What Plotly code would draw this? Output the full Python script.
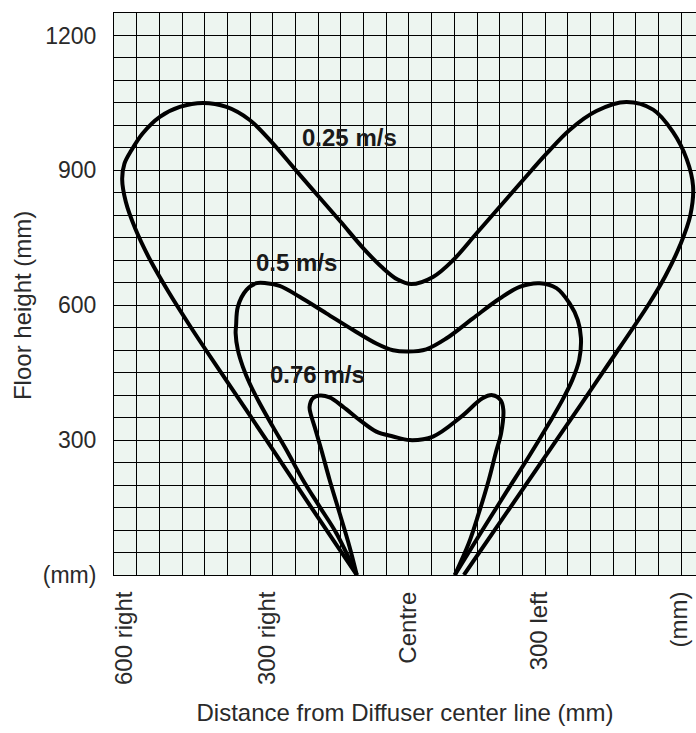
import plotly.graph_objects as go

# ---- data (mm) ----
x_025 = [-115, -215, -314, -414, -480, -530, -570, -603, -624, -632, -627, -612, -587, -549, -505,
         -454, -402, -351, -300, -250, -200, -150, -100, -60, -25, 5,
         53, 97, 149, 200, 251, 303, 354, 413, 479, 538, 582, 612, 626, 620, 598, 565, 530,
         430, 325, 223, 121]
y_025 = [0, 150, 300, 450, 550, 630, 700, 770, 830, 880, 915, 944, 982, 1019, 1041,
         1050, 1041, 1012, 960, 901, 843, 785, 726, 685, 657, 647,
         663, 700, 760, 819, 878, 937, 990, 1032, 1052, 1035, 985, 925, 865, 800, 735, 665, 605,
         455, 300, 150, 0]

x_05 = [-115, -160, -197, -234, -270, -300, -329, -351, -366, -377, -382, -381, -377, -358, -336,
        -314, -285, -241, -182, -123, -72, -35, -2, 38, 82, 141, 200, 244, 288, 325, 354, 372, 379,
        375, 360, 338, 309, 264, 213, 162, 101]
y_05 = [0, 93, 152, 212, 278, 330, 382, 426, 463, 500, 538, 554, 597, 634, 649,
        649, 643, 619, 582, 545, 515, 500, 497, 502, 526, 571, 615, 641, 649, 638, 604, 567, 527,
        478, 434, 389, 338, 263, 182, 100, 0]

x_076 = [-115, -131, -153, -175, -193, -208, -217, -219, -212, -197, -175, -145, -109, -72, -35, 2,
         53, 114, 162, 184, 202, 208, 203, 191, 176, 154, 132, 101]
y_076 = [0, 63, 138, 212, 278, 330, 360, 374, 393, 399, 395, 374, 345, 319, 308, 300,
         308, 351, 393, 400, 389, 367, 315, 271, 212, 138, 71, 0]

curve_labels = ["0.25 m/s", "0.5 m/s", "0.76 m/s"]
label_x = [-131, -247, -201]
label_y = [974, 694, 445]

x_tickvals = [-628, -312, -2, 288, 595]
x_ticktext = ["600 right", "300 right", "Centre", "300 left", "(mm)"]
y_tickvals = [0, 300, 600, 900, 1200]
y_ticktext = ["(mm)", "300", "600", "900", "1200"]

fig = go.Figure()
for xs, ys in [(x_025, y_025), (x_05, y_05), (x_076, y_076)]:
    fig.add_trace(go.Scatter(x=xs, y=ys, mode="lines",
                             line=dict(color="black", width=4, shape="spline", smoothing=1.0),
                             showlegend=False, hoverinfo="skip"))

for t, xx, yy in zip(curve_labels, label_x, label_y):
    fig.add_annotation(x=xx, y=yy, text="<b>" + t + "</b>", showarrow=False,
                       font=dict(family="Liberation Sans", size=24, color="#1a1a1a"),
                       xanchor="center", yanchor="middle")

font = dict(family="Liberation Sans", size=23, color="#2a2a2a")
title_font = dict(family="Liberation Sans", size=24, color="#2a2a2a")

# y-axis title placed as rotated text at the reference position
fig.add_annotation(xref="paper", yref="paper", x=(22 - 114) / 582, y=(575.2 - 306) / 562.5,
                   text="Floor height (mm)", textangle=-90, showarrow=False,
                   xanchor="center", yanchor="middle", font=title_font)

fig.update_layout(
    width=696, height=733,
    margin=dict(l=114, r=0, t=13, b=158),
    paper_bgcolor="white", plot_bgcolor="#edf5f0",
    font=font,
    xaxis=dict(range=[-650, 632.5], tickmode="array", tickvals=x_tickvals, ticktext=x_ticktext,
               tickangle=-90, showgrid=False, zeroline=False, ticks="",
               ticklabelstandoff=6, tickfont=dict(size=24),
               showline=True, linecolor="black", linewidth=1, mirror=True,
               minor=dict(tickmode="linear", tick0=0, dtick=50, showgrid=True,
                          gridcolor="black", gridwidth=1, ticks=""),
               title=dict(text="Distance from Diffuser center line (mm)", standoff=20, font=title_font),
               automargin=False, fixedrange=True),
    yaxis=dict(range=[0, 1250], tickmode="array", tickvals=y_tickvals, ticktext=y_ticktext,
               showgrid=False, zeroline=False, ticks="", ticklabelstandoff=12,
               showline=True, linecolor="black", linewidth=1,
               minor=dict(tickmode="linear", tick0=0, dtick=50, showgrid=True,
                          gridcolor="black", gridwidth=1, ticks=""),
               automargin=False, fixedrange=True),
)

fig.write_html("out.html", config={"displayModeBar": False},
               post_script="document.body.style.margin='0';document.body.style.overflow='hidden';")
